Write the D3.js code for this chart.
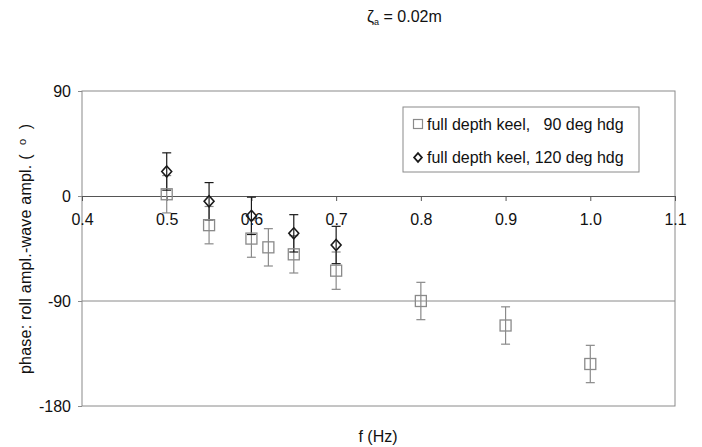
<!DOCTYPE html>
<html><head><meta charset="utf-8">
<script src="https://cdn.jsdelivr.net/npm/d3@7"></script>
<style>body{margin:0;background:#fff}svg{display:block;font-family:"Liberation Sans",Arial,sans-serif}</style>
</head><body>
<svg id="c" width="702" height="447"></svg>
<script>
const freq90 = [0.5, 0.55, 0.6, 0.62, 0.65, 0.7, 0.8, 0.9, 1.0];
const phase90 = [1.5, -25, -36.5, -44, -50, -64, -90, -111, -144];
const err90 = [16, 16, 16, 16, 16, 16, 16, 16, 16];
const freq120 = [0.5, 0.55, 0.6, 0.65, 0.7];
const phase120 = [21, -4.5, -17, -32, -42];
const err120 = [16, 16, 16, 16, 16];
const xTicks = [0.4, 0.5, 0.6, 0.7, 0.8, 0.9, 1.0, 1.1];
const yTicks = [90, 0, -90, -180];
const seriesNames = ["full depth keel,   90 deg hdg", "full depth keel, 120 deg hdg"];

const FS = 16;
const FONT = "Liberation Sans, Arial, sans-serif";
const svg = d3.select("#c");
const L = 82, R = 675, T = 91, B = 406;
const x = d3.scaleLinear().domain([0.4, 1.1]).range([L, R]);
const y = d3.scaleLinear().domain([-180, 90]).range([B, T]);
const grey = "#8a8a8a", dark = "#1a1a1a", txt = "#111";

// title
const title = svg.append("text").attr("x", 367).attr("y", 22).attr("font-size", FS).attr("fill", txt);
title.append("tspan").text("ζ");
title.append("tspan").attr("font-size", 9).attr("dy", 3).text("a");
title.append("tspan").attr("dy", -3).text(" = 0.02m");

// gridlines
svg.append("g").selectAll("line").data([-90]).join("line")
  .attr("x1", L).attr("x2", R).attr("y1", d => y(d)).attr("y2", d => y(d))
  .attr("stroke", grey).attr("stroke-width", 1);

// frame
svg.append("rect").attr("x", L).attr("y", T).attr("width", R - L).attr("height", B - T)
  .attr("fill", "none").attr("stroke", grey).attr("stroke-width", 1);

// y axis
const yAxis = d3.axisLeft(y).tickValues(yTicks).tickSize(4).tickFormat(d => String(d));
const gy = svg.append("g").attr("transform", `translate(${L},0)`).call(yAxis);
gy.select(".domain").remove();
gy.selectAll("line").attr("stroke", grey);
gy.selectAll("text").attr("font-size", FS).attr("fill", txt).attr("x", -11).attr("font-family", FONT);

// x axis at y=0
const xAxis = d3.axisBottom(x).tickValues(xTicks).tickSize(5).tickFormat(d3.format(".1f"));
const gx = svg.append("g").attr("transform", `translate(0,${y(0)})`).call(xAxis);
gx.select(".domain").attr("stroke", "#555");
gx.selectAll("line").attr("stroke", "#555");
gx.selectAll("text").attr("font-size", FS).attr("fill", txt).attr("y", 18).attr("font-family", FONT);

// axis titles
svg.append("text").attr("x", 378).attr("y", 442).attr("text-anchor", "middle").attr("font-size", FS).attr("fill", txt).text("f (Hz)");
const yl = svg.append("text").attr("transform", "translate(31,249) rotate(-90)").attr("text-anchor", "middle")
  .attr("font-size", FS).attr("fill", txt).attr("textLength", 250).attr("lengthAdjust", "spacing")
  .attr("xml:space", "preserve").style("white-space", "pre");
yl.append("tspan").text("phase: roll ampl.-wave ampl. (  ");
yl.append("tspan").attr("font-size", 11).attr("dy", -5).text("o");
yl.append("tspan").attr("dy", 5).text("  )");

function errorBars(fs, ps, es, color) {
  const g = svg.append("g").attr("stroke", color).attr("stroke-width", 1.2).attr("fill", "none");
  fs.forEach((f, i) => {
    const cx = x(f), y1 = y(ps[i] + es[i]), y2 = y(ps[i] - es[i]);
    g.append("line").attr("x1", cx).attr("x2", cx).attr("y1", y1).attr("y2", y2);
    g.append("line").attr("x1", cx - 4.5).attr("x2", cx + 4.5).attr("y1", y1).attr("y2", y1);
    g.append("line").attr("x1", cx - 4.5).attr("x2", cx + 4.5).attr("y1", y2).attr("y2", y2);
  });
}
errorBars(freq90, phase90, err90, grey);
errorBars(freq120, phase120, err120, dark);

// squares
svg.append("g").selectAll("rect").data(freq90).join("rect")
  .attr("x", (d, i) => x(d) - 5.5).attr("y", (d, i) => y(phase90[i]) - 5.5)
  .attr("width", 11).attr("height", 11).attr("fill", "none").attr("stroke", grey).attr("stroke-width", 1.3);

// diamonds
const diamond = (cx, cy, r) => `M${cx},${cy - r}L${cx + r * 0.9},${cy}L${cx},${cy + r}L${cx - r * 0.9},${cy}Z`;
svg.append("g").selectAll("path").data(freq120).join("path")
  .attr("d", (d, i) => diamond(x(d), y(phase120[i]), 5.5))
  .attr("fill", "none").attr("stroke", dark).attr("stroke-width", 1.6);

// legend
const lg = svg.append("g");
lg.append("rect").attr("x", 403).attr("y", 107).attr("width", 236).attr("height", 65)
  .attr("fill", "#fff").attr("stroke", grey).attr("stroke-width", 1);
lg.append("rect").attr("x", 413.5).attr("y", 119.5).attr("width", 9).attr("height", 9)
  .attr("fill", "none").attr("stroke", grey).attr("stroke-width", 1.2);
lg.append("path").attr("d", diamond(418, 157.5, 4.3)).attr("fill", "none").attr("stroke", dark).attr("stroke-width", 1.8);
lg.selectAll("text.lt").data(seriesNames).join("text").attr("class", "lt")
  .attr("x", 427).attr("y", (d, i) => 129.5 + i * 33).attr("font-size", FS).attr("fill", txt)
  .attr("xml:space", "preserve").style("white-space", "pre").text(d => d);
</script>
</body></html>
